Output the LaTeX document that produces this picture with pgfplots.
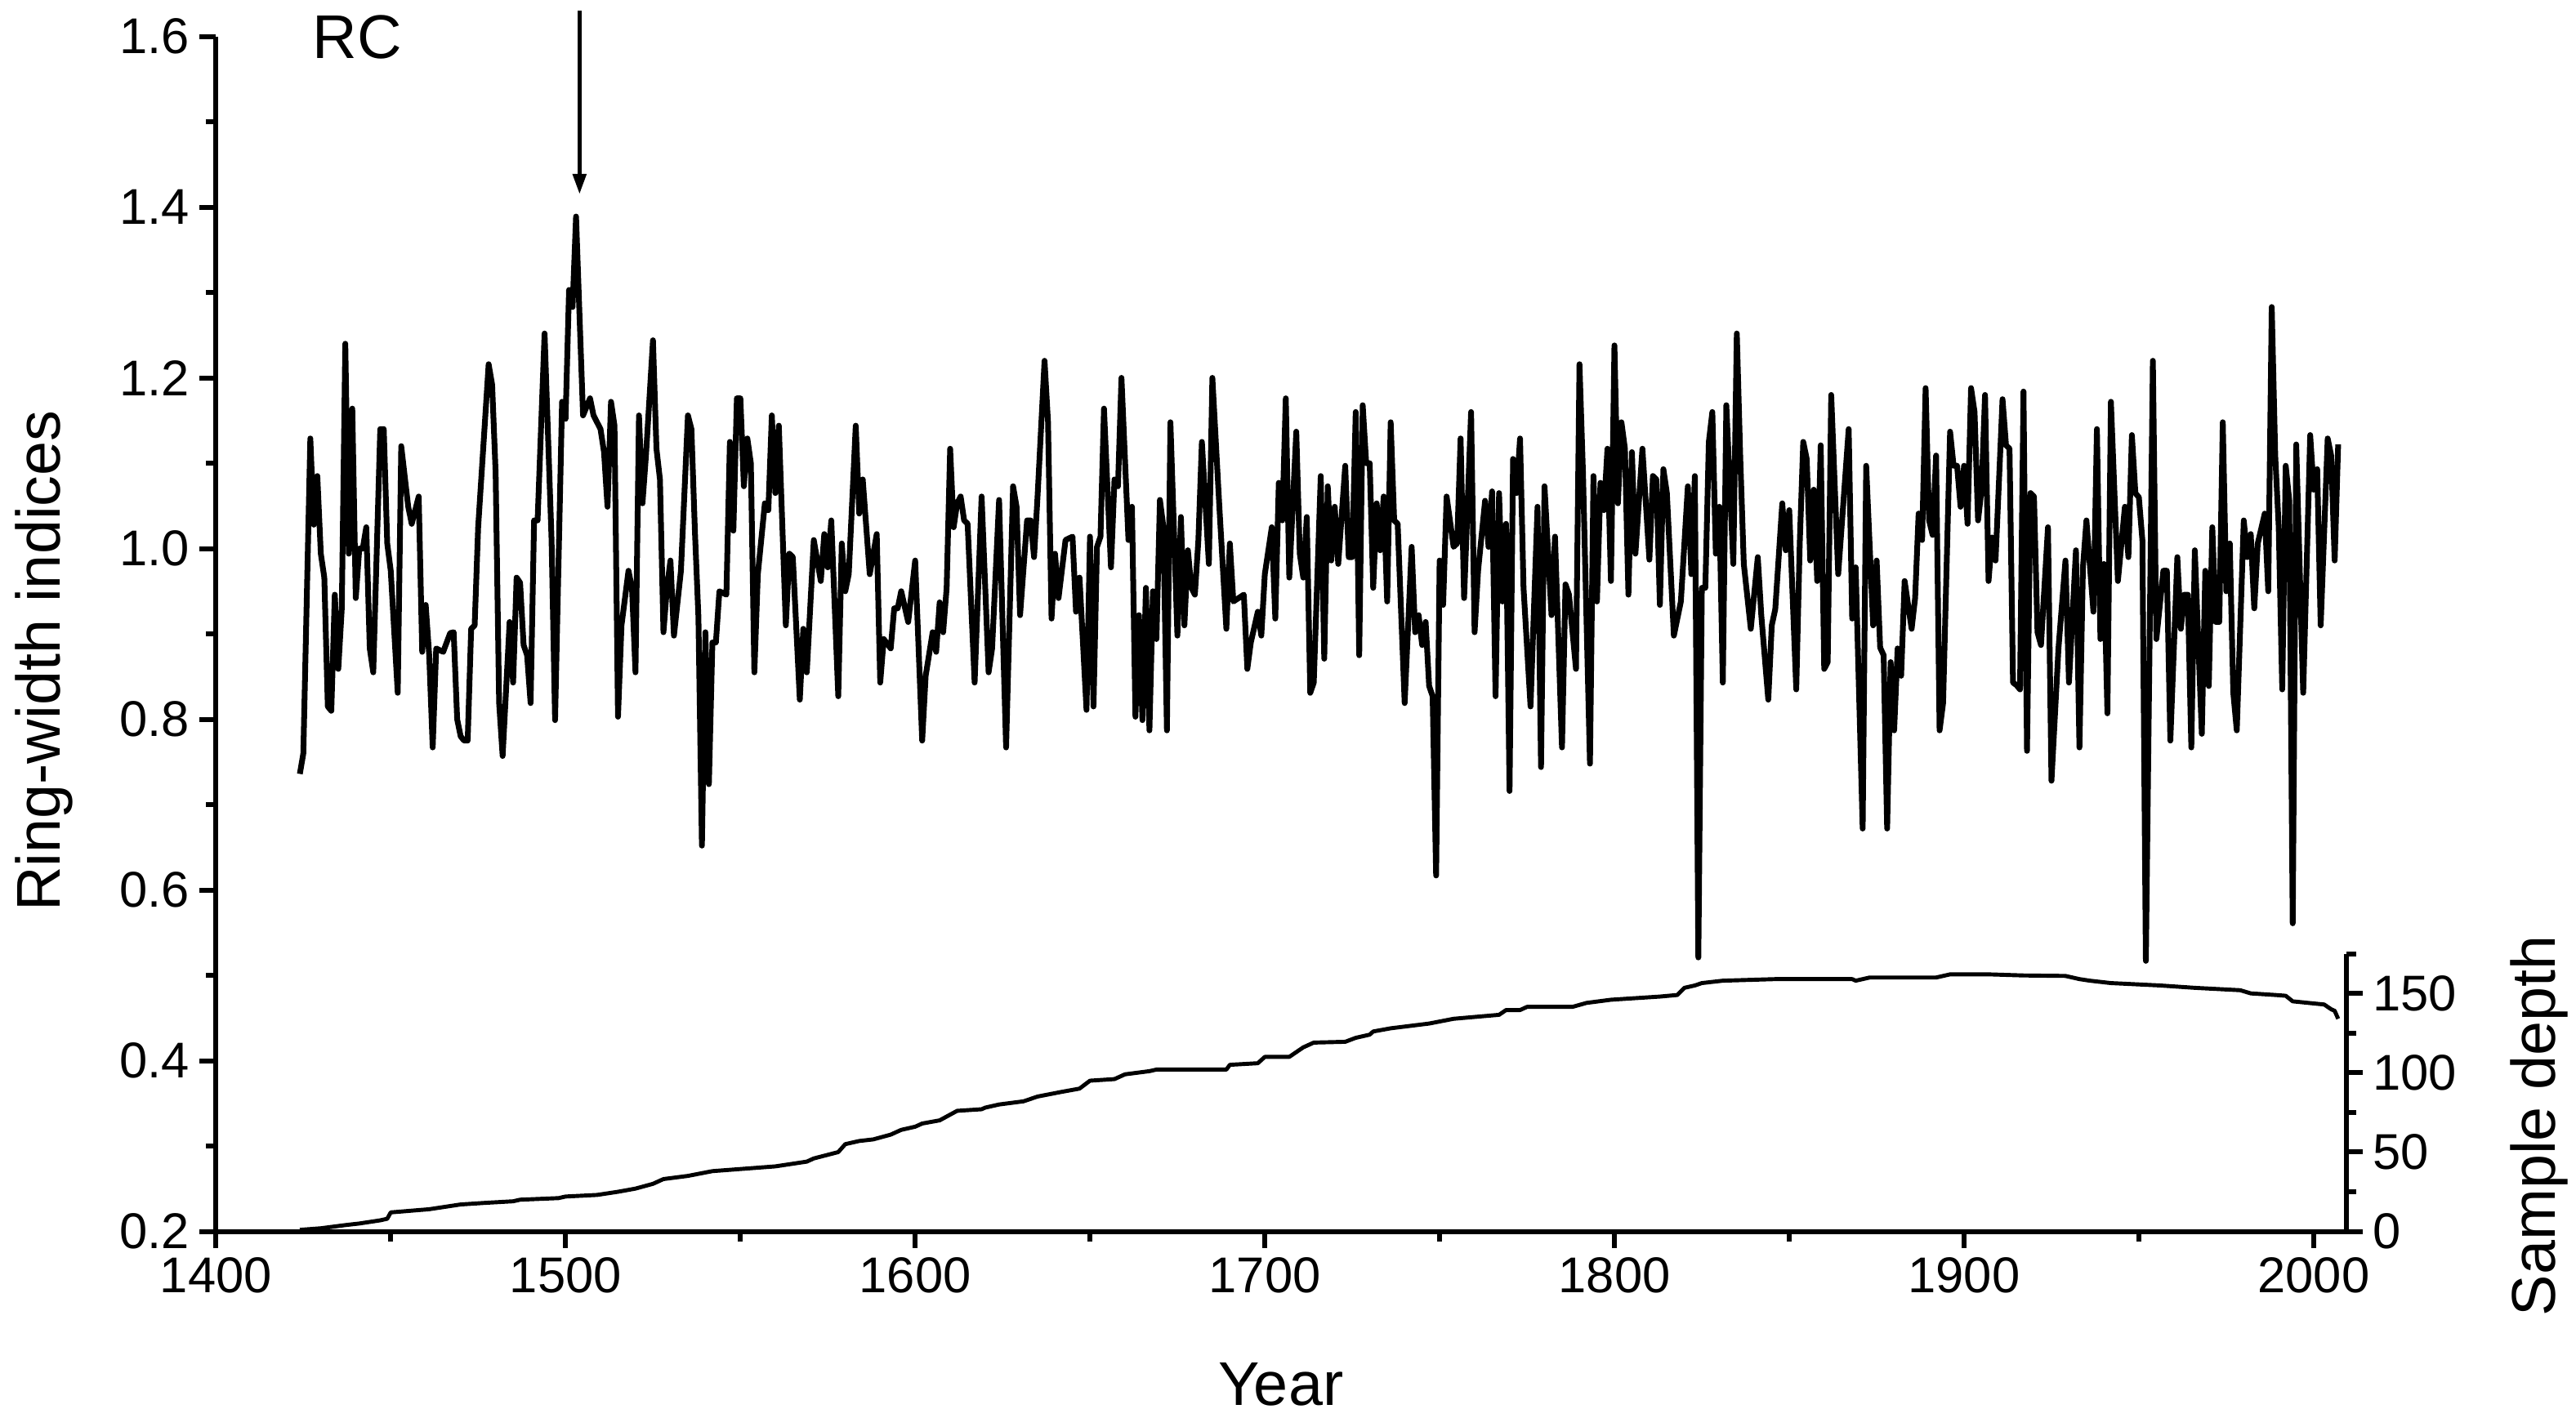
\documentclass[border=0pt]{standalone}
\usepackage{fontspec}
\setmainfont{Liberation Sans}
\usepackage{pgfplots}
\pgfplotsset{compat=1.18}
\usetikzlibrary{arrows.meta}

\newcommand\lbl{\fontsize{21.5}{24}\selectfont}
\newcommand\tck{\fontsize{17.5}{20}\selectfont}

\begin{document}
\begin{tikzpicture}
\useasboundingbox (-26.43mm,-22.74mm) rectangle (288.87mm,150.76mm);

% ring-width chronology
\begin{axis}[
    name=main, at={(0,0)}, anchor=south west,
    scale only axis, width=260.74mm, height=146.3mm,
    xmin=1400, xmax=2009.3, ymin=0.2, ymax=1.6,
    axis x line*=bottom, axis y line*=left,
    axis line style={line width=1.7pt, -},
    xtick={1400,1500,1600,1700,1800,1900,2000},
    xticklabels={1400,1500,1600,1700,1800,1900,2000},
    minor xtick={1450,1550,1650,1750,1850,1950},
    ytick={0.2,0.4,0.6,0.8,1.0,1.2,1.4,1.6},
    yticklabels={0.2,0.4,0.6,0.8,1.0,1.2,1.4,1.6},
    minor ytick={0.3,0.5,0.7,0.9,1.1,1.3,1.5},
    tick align=outside,
    major tick length=2mm, minor tick length=1.2mm,
    tick style={black, line width=1.7pt},
    tick label style={font=\tck},
    clip=false,
]
\addplot[black, line width=2pt, line join=round] table {
1424 0.736
1425 0.76
1427 1.129
1428 1.028
1429 1.085
1430 0.994
1431 0.966
1432 0.815
1433 0.81
1434 0.946
1435 0.859
1436 0.93
1437 1.24
1438 0.994
1439 1.164
1440 0.942
1441 1.0
1442 1.0
1443 1.025
1444 0.883
1445 0.855
1447 1.14
1448 1.14
1449 1.006
1450 0.974
1452 0.831
1453 1.12
1455 1.049
1456 1.029
1458 1.061
1459 0.879
1460 0.934
1461 0.875
1462 0.767
1463 0.883
1465 0.879
1467 0.901
1468 0.902
1469 0.80
1470 0.78
1471 0.775
1472 0.775
1473 0.906
1474 0.91
1475 1.025
1478 1.216
1479 1.192
1480 1.089
1481 0.819
1482 0.757
1484 0.914
1485 0.843
1486 0.966
1487 0.96
1488 0.887
1489 0.875
1490 0.819
1491 1.033
1492 1.033
1494 1.252
1496 1.01
1497 0.799
1499 1.172
1500 1.152
1501 1.303
1502 1.283
1503 1.389
1505 1.156
1507 1.176
1508 1.156
1510 1.14
1511 1.113
1512 1.049
1513 1.172
1514 1.144
1515 0.803
1516 0.91
1518 0.974
1519 0.954
1520 0.855
1521 1.156
1522 1.053
1523 1.109
1525 1.244
1526 1.117
1527 1.081
1528 0.902
1529 0.954
1530 0.986
1531 0.898
1533 0.974
1535 1.156
1536 1.14
1537 1.02
1538 0.92
1539 0.652
1540 0.902
1541 0.724
1542 0.89
1543 0.89
1544 0.95
1546 0.946
1547 1.125
1548 1.021
1549 1.176
1550 1.176
1551 1.073
1552 1.129
1553 1.1
1554 0.855
1555 0.97
1557 1.053
1558 1.045
1559 1.156
1560 1.065
1561 1.144
1563 0.91
1564 0.994
1565 0.99
1567 0.823
1568 0.906
1569 0.855
1571 1.01
1573 0.962
1574 1.017
1575 0.978
1576 1.033
1578 0.827
1579 1.006
1580 0.95
1581 0.97
1583 1.144
1584 1.041
1585 1.081
1587 0.97
1589 1.017
1590 0.843
1591 0.894
1593 0.883
1594 0.93
1595 0.93
1596 0.95
1598 0.914
1600 0.986
1602 0.775
1603 0.851
1605 0.902
1606 0.879
1607 0.937
1608 0.902
1609 0.954
1610 1.117
1611 1.025
1612 1.053
1613 1.061
1614 1.033
1615 1.029
1617 0.843
1619 1.061
1621 0.855
1622 0.883
1624 1.057
1626 0.767
1628 1.073
1629 1.049
1630 0.922
1632 1.033
1633 1.033
1634 0.99
1635 1.061
1637 1.22
1638 1.148
1639 0.918
1640 0.994
1641 0.942
1643 1.01
1645 1.014
1646 0.926
1647 0.966
1649 0.811
1650 1.014
1651 0.815
1652 1.002
1653 1.014
1654 1.164
1656 0.978
1657 1.081
1658 1.073
1659 1.2
1661 1.01
1662 1.049
1663 0.803
1664 0.922
1665 0.799
1666 0.954
1667 0.787
1668 0.95
1669 0.894
1670 1.057
1671 1.025
1672 0.787
1673 1.148
1675 0.898
1676 1.037
1677 0.91
1678 0.998
1679 0.954
1680 0.946
1681 1.01
1682 1.125
1684 0.982
1685 1.2
1687 1.049
1689 0.906
1690 1.006
1691 0.938
1694 0.946
1695 0.859
1696 0.89
1698 0.926
1699 0.898
1700 0.97
1702 1.025
1703 0.918
1704 1.077
1705 1.033
1706 1.176
1707 0.966
1709 1.137
1710 0.994
1711 0.966
1712 1.037
1713 0.831
1714 0.843
1716 1.085
1717 0.871
1718 1.073
1719 0.986
1720 1.049
1721 0.982
1723 1.097
1724 0.99
1725 0.99
1726 1.16
1727 0.875
1728 1.168
1729 1.1
1730 1.1
1731 0.954
1732 1.053
1733 0.998
1734 1.061
1735 0.938
1736 1.148
1737 1.033
1738 1.029
1740 0.819
1742 1.002
1743 0.902
1744 0.922
1745 0.887
1746 0.914
1747 0.839
1748 0.827
1749 0.617
1750 0.986
1751 0.934
1752 1.061
1754 1.002
1755 1.006
1756 1.129
1757 0.942
1759 1.16
1760 0.902
1761 0.974
1763 1.056
1764 1.002
1765 1.067
1766 0.827
1767 1.065
1768 0.938
1769 1.029
1770 0.716
1771 1.105
1772 1.065
1773 1.129
1774 0.954
1776 0.815
1778 1.049
1779 0.744
1780 1.073
1782 0.922
1783 1.014
1785 0.767
1786 0.958
1787 0.946
1789 0.859
1790 1.216
1791 1.089
1793 0.748
1794 1.085
1795 0.938
1796 1.077
1797 1.045
1798 1.117
1799 0.962
1800 1.238
1801 1.053
1802 1.148
1803 1.117
1804 0.946
1805 1.113
1806 0.994
1808 1.117
1810 0.987
1811 1.085
1812 1.081
1813 0.934
1814 1.093
1815 1.065
1817 0.898
1819 0.938
1821 1.073
1822 0.97
1823 1.085
1824 0.521
1825 0.954
1826 0.954
1827 1.125
1828 1.16
1829 0.994
1830 1.049
1831 0.843
1832 1.168
1834 0.982
1835 1.252
1836 1.105
1837 0.982
1839 0.906
1841 0.99
1842 0.922
1844 0.823
1845 0.91
1846 0.929
1848 1.053
1849 0.998
1850 1.045
1852 0.835
1853 1.006
1854 1.125
1855 1.105
1856 0.986
1857 1.069
1858 0.962
1859 1.121
1860 0.859
1861 0.867
1862 1.18
1864 0.97
1867 1.14
1868 0.918
1869 0.978
1871 0.672
1872 1.097
1874 0.91
1875 0.986
1876 0.884
1877 0.875
1878 0.672
1879 0.867
1880 0.787
1881 0.883
1882 0.851
1883 0.962
1885 0.906
1886 0.942
1887 1.041
1888 1.01
1889 1.188
1890 1.033
1891 1.016
1892 1.109
1893 0.787
1894 0.819
1896 1.137
1897 1.097
1898 1.097
1899 1.049
1900 1.097
1901 1.029
1902 1.188
1903 1.16
1904 1.033
1905 1.069
1906 1.18
1907 0.962
1908 1.013
1909 0.986
1911 1.175
1912 1.121
1913 1.117
1914 0.843
1915 0.84
1916 0.835
1917 1.184
1918 0.763
1919 1.065
1920 1.061
1921 0.902
1922 0.887
1924 1.025
1925 0.728
1927 0.883
1929 0.986
1930 0.843
1932 0.998
1933 0.767
1934 0.978
1935 1.033
1937 0.926
1938 1.14
1939 0.894
1940 0.982
1941 0.807
1942 1.172
1944 0.962
1946 1.049
1947 0.99
1948 1.133
1949 1.065
1950 1.06
1951 1.01
1952 0.517
1954 1.22
1955 0.894
1957 0.974
1958 0.974
1959 0.775
1961 0.99
1962 0.906
1963 0.946
1964 0.946
1965 0.767
1966 0.998
1968 0.783
1969 0.974
1970 0.839
1971 1.025
1972 0.914
1973 0.914
1974 1.148
1975 0.95
1976 1.006
1977 0.831
1978 0.787
1980 1.033
1981 0.99
1982 1.017
1983 0.93
1984 1.006
1986 1.041
1987 0.95
1988 1.283
1989 1.109
1990 1.025
1991 0.835
1992 1.097
1993 1.057
1994 0.561
1995 1.122
1997 0.831
1999 1.133
2000 1.069
2001 1.093
2002 0.91
2004 1.129
2005 1.109
2006 0.986
2007 1.122
};

\node[anchor=base west, font=\lbl, inner sep=0pt] at (axis cs:1427.5,1.574) {RC};
\draw[line width=1.5pt, -{Triangle[length=2.5mm, width=1.6mm]}]
    (axis cs:1504,1.63) -- (axis cs:1504,1.415);
\node[anchor=base, font=\lbl, inner sep=0pt] at (axis cs:1704.6,-0.0042) {Year};
\node[rotate=90, anchor=base, font=\lbl, inner sep=0pt] at (axis cs:1355.5,0.8685) {Ring-width indices};
\node[rotate=90, anchor=base, font=\lbl, inner sep=0pt] at (axis cs:2069.1,0.324) {Sample depth};
\end{axis}

% sample depth, right axis on the lower part
\begin{axis}[
    at={(main.south west)}, anchor=south west,
    scale only axis, width=260.74mm, height=34mm,
    xmin=1400, xmax=2009.3, ymin=0, ymax=175,
    axis x line=none, axis y line*=right,
    axis line style={line width=1.7pt, -},
    ytick={0,50,100,150}, yticklabels={0,50,100,150},
    minor ytick={25,75,125,175},
    tick align=outside,
    major tick length=2mm, minor tick length=1.2mm,
    tick style={black, line width=1.7pt},
    tick label style={font=\tck},
]
\addplot[black, line width=1.4pt, line join=round] table {
1424 1
1430 2
1437 4
1441 5
1447 7
1449 8
1450 12
1461 14
1470 17
1477 18
1485 19
1487 20
1498 21
1500 22
1509 23
1515 25
1520 27
1525 30
1528 33
1535 35
1542 38
1560 41
1569 44
1571 46
1578 50
1580 55
1584 57
1588 58
1593 61
1596 64
1600 66
1602 68
1607 70
1612 76
1619 77
1620 78
1624 80
1631 82
1635 85
1642 88
1647 90
1650 95
1657 96
1660 99
1667 101
1669 102
1689 102
1690 105
1698 106
1700 110
1707 110
1711 116
1714 119
1723 119.5
1726 122
1730 124
1731 126
1736 128
1747 131
1754 134
1767 136.5
1769 139.5
1773 139.5
1775 141.5
1788 141.5
1792 144
1799 146
1806 147
1813 148
1818 149
1820 153.5
1823 155
1825 156.5
1831 158
1846 159
1868 159
1869 158
1873 160
1892 160
1896 162
1907 162
1917 161.3
1929 161
1933 159
1936 158
1942 156.5
1956 155
1966 153.5
1979 152
1982 150
1989 149
1992 148.5
1994 145
2003 143
2005 140
2006 139
2007 134
};
\end{axis}
\end{tikzpicture}
\end{document}
